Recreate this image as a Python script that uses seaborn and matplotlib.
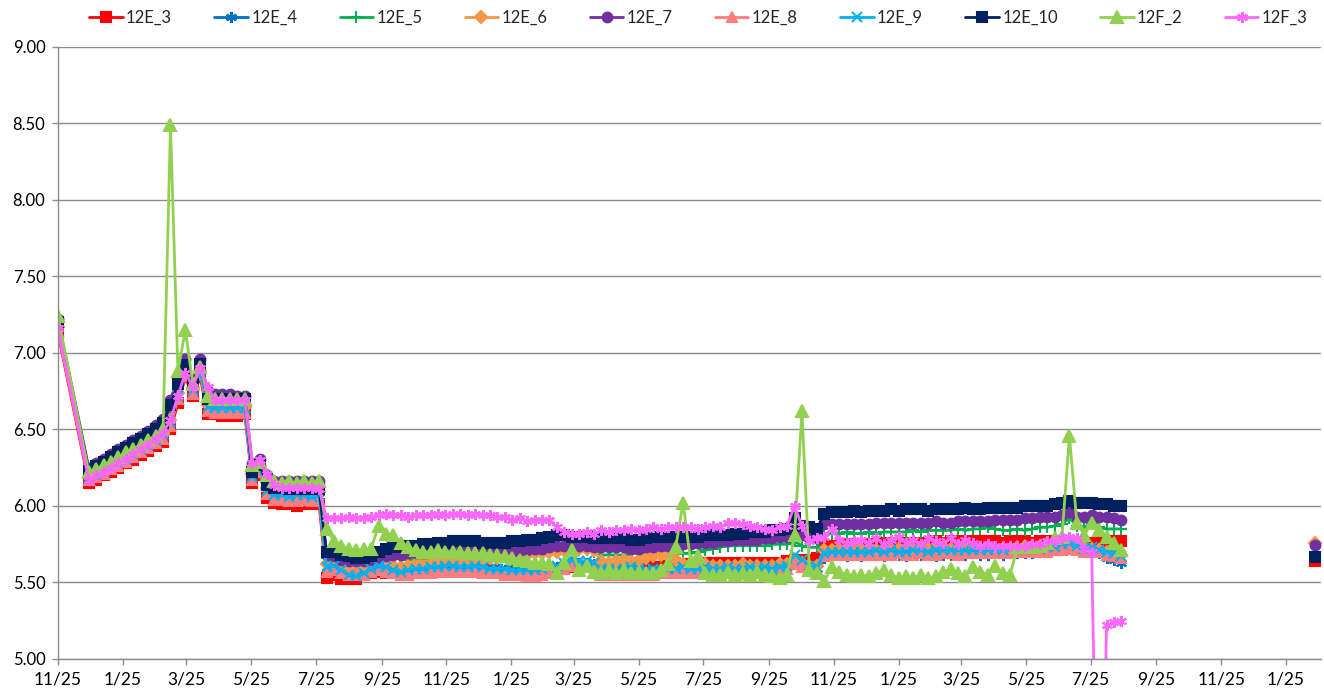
import matplotlib
matplotlib.use("Agg")
import matplotlib.pyplot as plt
import matplotlib.dates as mdates
from matplotlib.ticker import FuncFormatter, MultipleLocator
import seaborn as sns
import pandas as pd

# sampling dates: first reading, then weekly readings
first_date = pd.Timestamp("2011-11-25")
week_dates = pd.date_range("2011-12-24", periods=140, freq="7D")
dates = [first_date] + list(week_dates)
late_date = pd.Timestamp("2015-02-21")

series_names = ["12E_3", "12E_4", "12E_5", "12E_6", "12E_7",
                "12E_8", "12E_9", "12E_10", "12F_2", "12F_3"]

e3 = [7.13,
      6.15, 6.17, 6.20, 6.22, 6.25, 6.28, 6.30, 6.33, 6.36, 6.39,
      6.42, 6.50, 6.67, 6.84, 6.72, 6.84, 6.60, 6.60, 6.59, 6.59,
      6.59, 6.60, 6.15, 6.20, 6.05, 6.02, 6.01, 6.01, 6.00, 6.01,
      6.01, 6.01, 5.53, 5.55, 5.52, 5.52, 5.52, 5.55, 5.56, 5.57,
      5.56, 5.56, 5.56, 5.57, 5.57, 5.57, 5.57, 5.58, 5.58, 5.58,
      5.58, 5.58, 5.58, 5.58, 5.58, 5.58, 5.57, 5.57, 5.57, 5.57,
      5.58, 5.58, 5.58, 5.59, 5.59, 5.60, 5.61, 5.61, 5.60, 5.58,
      5.58, 5.58, 5.59, 5.59, 5.59, 5.60, 5.60, 5.60, 5.61, 5.61,
      5.62, 5.62, 5.63, 5.63, 5.63, 5.63, 5.63, 5.63, 5.63, 5.63,
      5.63, 5.63, 5.63, 5.63, 5.64, 5.65, 5.65, 5.65, 5.66, 5.74,
      5.74, 5.74, 5.75, 5.74, 5.75, 5.75, 5.75, 5.76, 5.75, 5.76,
      5.76, 5.76, 5.76, 5.76, 5.77, 5.76, 5.77, 5.77, 5.76, 5.77,
      5.77, 5.77, 5.77, 5.76, 5.77, 5.77, 5.77, 5.76, 5.77, 5.77,
      5.77, 5.77, 5.76, 5.75, 5.76, 5.76, 5.77, 5.77, 5.77, 5.77]

e4 = [7.18,
      6.18, 6.20, 6.23, 6.25, 6.28, 6.31, 6.33, 6.36, 6.39, 6.42,
      6.46, 6.54, 6.72, 6.87, 6.75, 6.87, 6.64, 6.63, 6.63, 6.63,
      6.63, 6.63, 6.19, 6.24, 6.09, 6.06, 6.06, 6.06, 6.05, 6.06,
      6.06, 6.06, 5.60, 5.60, 5.58, 5.55, 5.55, 5.56, 5.58, 5.60,
      5.59, 5.57, 5.56, 5.57, 5.58, 5.58, 5.59, 5.59, 5.60, 5.60,
      5.59, 5.60, 5.60, 5.59, 5.59, 5.59, 5.58, 5.58, 5.58, 5.57,
      5.57, 5.58, 5.59, 5.60, 5.62, 5.64, 5.63, 5.63, 5.62, 5.58,
      5.58, 5.57, 5.58, 5.59, 5.58, 5.57, 5.58, 5.57, 5.58, 5.58,
      5.59, 5.58, 5.58, 5.59, 5.58, 5.58, 5.59, 5.58, 5.58, 5.59,
      5.58, 5.59, 5.58, 5.59, 5.60, 5.66, 5.63, 5.60, 5.59, 5.66,
      5.68, 5.68, 5.67, 5.68, 5.67, 5.68, 5.68, 5.67, 5.68, 5.68,
      5.67, 5.68, 5.68, 5.68, 5.67, 5.68, 5.68, 5.68, 5.68, 5.69,
      5.68, 5.68, 5.69, 5.68, 5.69, 5.69, 5.69, 5.69, 5.70, 5.70,
      5.71, 5.72, 5.73, 5.72, 5.70, 5.71, 5.69, 5.66, 5.65, 5.63]

e5 = [7.20,
      6.21, 6.23, 6.26, 6.29, 6.31, 6.34, 6.37, 6.40, 6.43, 6.47,
      6.52, 6.62, 6.78, 6.90, 6.78, 6.90, 6.70, 6.68, 6.68, 6.68,
      6.68, 6.68, 6.24, 6.28, 6.16, 6.13, 6.13, 6.12, 6.13, 6.13,
      6.13, 6.13, 5.66, 5.64, 5.63, 5.63, 5.62, 5.63, 5.64, 5.66,
      5.67, 5.67, 5.66, 5.65, 5.65, 5.65, 5.66, 5.66, 5.66, 5.66,
      5.67, 5.67, 5.67, 5.67, 5.67, 5.68, 5.68, 5.68, 5.68, 5.69,
      5.69, 5.70, 5.70, 5.70, 5.71, 5.72, 5.71, 5.71, 5.70, 5.68,
      5.68, 5.68, 5.68, 5.69, 5.69, 5.70, 5.70, 5.71, 5.70, 5.69,
      5.69, 5.69, 5.70, 5.71, 5.72, 5.73, 5.74, 5.74, 5.74, 5.74,
      5.74, 5.74, 5.75, 5.75, 5.75, 5.77, 5.74, 5.73, 5.73, 5.82,
      5.82, 5.82, 5.83, 5.82, 5.82, 5.83, 5.82, 5.83, 5.83, 5.83,
      5.83, 5.84, 5.83, 5.84, 5.84, 5.84, 5.84, 5.85, 5.84, 5.85,
      5.85, 5.86, 5.85, 5.84, 5.84, 5.85, 5.84, 5.85, 5.86, 5.86,
      5.87, 5.88, 5.92, 5.87, 5.86, 5.89, 5.86, 5.85, 5.85, 5.85]

e6 = [7.17,
      6.19, 6.21, 6.24, 6.27, 6.29, 6.32, 6.35, 6.38, 6.41, 6.44,
      6.48, 6.56, 6.74, 6.88, 6.77, 6.88, 6.66, 6.66, 6.65, 6.65,
      6.65, 6.65, 6.21, 6.26, 6.12, 6.09, 6.09, 6.08, 6.09, 6.09,
      6.09, 6.09, 5.62, 5.63, 5.61, 5.60, 5.59, 5.60, 5.62, 5.63,
      5.62, 5.61, 5.60, 5.61, 5.62, 5.62, 5.63, 5.63, 5.64, 5.64,
      5.64, 5.65, 5.65, 5.66, 5.66, 5.66, 5.67, 5.67, 5.68, 5.68,
      5.69, 5.69, 5.70, 5.70, 5.71, 5.73, 5.72, 5.72, 5.71, 5.64,
      5.63, 5.64, 5.65, 5.64, 5.65, 5.66, 5.67, 5.68, 5.67, 5.65,
      5.62, 5.61, 5.61, 5.62, 5.61, 5.61, 5.61, 5.61, 5.62, 5.61,
      5.61, 5.61, 5.61, 5.62, 5.62, 5.65, 5.63, 5.61, 5.61, 5.71,
      5.71, 5.72, 5.71, 5.72, 5.72, 5.72, 5.71, 5.72, 5.72, 5.72,
      5.72, 5.72, 5.73, 5.72, 5.72, 5.73, 5.72, 5.72, 5.73, 5.72,
      5.72, 5.73, 5.72, 5.72, 5.72, 5.72, 5.73, 5.73, 5.73, 5.73,
      5.74, 5.74, 5.76, 5.74, 5.73, 5.72, 5.71, 5.70, 5.69, 5.68]

e7 = [7.22,
      6.25, 6.28, 6.31, 6.34, 6.37, 6.40, 6.43, 6.46, 6.49, 6.53,
      6.57, 6.69, 6.83, 6.96, 6.82, 6.96, 6.75, 6.73, 6.73, 6.73,
      6.72, 6.72, 6.28, 6.31, 6.20, 6.16, 6.16, 6.16, 6.16, 6.16,
      6.16, 6.16, 5.68, 5.67, 5.65, 5.64, 5.64, 5.64, 5.65, 5.66,
      5.67, 5.68, 5.68, 5.69, 5.69, 5.69, 5.70, 5.70, 5.70, 5.71,
      5.71, 5.71, 5.71, 5.71, 5.70, 5.70, 5.70, 5.70, 5.71, 5.71,
      5.72, 5.72, 5.73, 5.74, 5.74, 5.74, 5.74, 5.74, 5.73, 5.73,
      5.73, 5.73, 5.73, 5.72, 5.72, 5.73, 5.73, 5.74, 5.74, 5.74,
      5.75, 5.75, 5.76, 5.76, 5.76, 5.77, 5.77, 5.78, 5.78, 5.78,
      5.78, 5.79, 5.79, 5.80, 5.80, 5.84, 5.81, 5.79, 5.79, 5.88,
      5.88, 5.88, 5.88, 5.88, 5.88, 5.88, 5.89, 5.89, 5.89, 5.89,
      5.89, 5.89, 5.89, 5.89, 5.90, 5.89, 5.89, 5.90, 5.90, 5.90,
      5.90, 5.90, 5.91, 5.91, 5.91, 5.91, 5.92, 5.92, 5.93, 5.93,
      5.93, 5.94, 5.96, 5.93, 5.93, 5.94, 5.93, 5.93, 5.92, 5.91]

e8 = [7.14,
      6.17, 6.19, 6.21, 6.24, 6.26, 6.29, 6.32, 6.35, 6.38, 6.41,
      6.44, 6.52, 6.70, 6.85, 6.73, 6.86, 6.62, 6.61, 6.61, 6.61,
      6.61, 6.61, 6.17, 6.22, 6.08, 6.04, 6.04, 6.03, 6.03, 6.04,
      6.03, 6.04, 5.57, 5.58, 5.56, 5.55, 5.55, 5.55, 5.57, 5.58,
      5.57, 5.56, 5.55, 5.55, 5.56, 5.56, 5.56, 5.57, 5.57, 5.57,
      5.57, 5.57, 5.57, 5.56, 5.56, 5.56, 5.55, 5.55, 5.55, 5.54,
      5.54, 5.55, 5.56, 5.57, 5.59, 5.61, 5.61, 5.60, 5.60, 5.55,
      5.55, 5.55, 5.55, 5.55, 5.55, 5.55, 5.55, 5.56, 5.56, 5.56,
      5.56, 5.56, 5.56, 5.57, 5.57, 5.57, 5.57, 5.57, 5.57, 5.57,
      5.57, 5.57, 5.58, 5.58, 5.59, 5.62, 5.60, 5.59, 5.58, 5.67,
      5.68, 5.68, 5.68, 5.68, 5.68, 5.68, 5.68, 5.68, 5.68, 5.69,
      5.68, 5.68, 5.69, 5.68, 5.68, 5.69, 5.69, 5.68, 5.69, 5.69,
      5.69, 5.69, 5.69, 5.69, 5.69, 5.70, 5.70, 5.70, 5.70, 5.70,
      5.71, 5.71, 5.72, 5.71, 5.70, 5.70, 5.70, 5.68, 5.67, 5.66]

e9 = [7.17,
      6.18, 6.20, 6.23, 6.26, 6.28, 6.31, 6.34, 6.37, 6.40, 6.43,
      6.47, 6.55, 6.72, 6.87, 6.76, 6.88, 6.65, 6.64, 6.64, 6.64,
      6.64, 6.64, 6.19, 6.25, 6.10, 6.07, 6.07, 6.06, 6.07, 6.07,
      6.06, 6.07, 5.60, 5.61, 5.58, 5.55, 5.54, 5.56, 5.59, 5.61,
      5.60, 5.58, 5.57, 5.58, 5.59, 5.59, 5.60, 5.60, 5.61, 5.61,
      5.60, 5.60, 5.61, 5.60, 5.59, 5.59, 5.59, 5.58, 5.58, 5.58,
      5.58, 5.59, 5.60, 5.61, 5.63, 5.65, 5.64, 5.64, 5.63, 5.59,
      5.59, 5.58, 5.59, 5.60, 5.59, 5.58, 5.59, 5.58, 5.59, 5.59,
      5.60, 5.59, 5.59, 5.60, 5.59, 5.59, 5.60, 5.59, 5.59, 5.60,
      5.59, 5.60, 5.59, 5.60, 5.61, 5.68, 5.65, 5.61, 5.60, 5.69,
      5.70, 5.70, 5.70, 5.70, 5.70, 5.70, 5.71, 5.70, 5.71, 5.70,
      5.70, 5.71, 5.71, 5.70, 5.71, 5.71, 5.71, 5.71, 5.71, 5.71,
      5.71, 5.71, 5.72, 5.71, 5.72, 5.72, 5.72, 5.72, 5.72, 5.73,
      5.73, 5.75, 5.76, 5.74, 5.72, 5.73, 5.71, 5.70, 5.69, 5.67]

e10 = [7.20,
       6.23, 6.26, 6.29, 6.32, 6.35, 6.38, 6.41, 6.44, 6.47, 6.50,
       6.54, 6.66, 6.80, 6.92, 6.80, 6.93, 6.70, 6.70, 6.70, 6.70,
       6.70, 6.70, 6.22, 6.27, 6.14, 6.12, 6.12, 6.11, 6.11, 6.11,
       6.11, 6.11, 5.70, 5.70, 5.68, 5.67, 5.66, 5.66, 5.67, 5.70,
       5.72, 5.73, 5.73, 5.74, 5.74, 5.75, 5.75, 5.76, 5.76, 5.77,
       5.77, 5.77, 5.77, 5.76, 5.76, 5.76, 5.76, 5.77, 5.77, 5.78,
       5.78, 5.79, 5.80, 5.81, 5.81, 5.80, 5.80, 5.80, 5.79, 5.79,
       5.79, 5.79, 5.79, 5.78, 5.78, 5.79, 5.80, 5.80, 5.80, 5.80,
       5.80, 5.80, 5.80, 5.81, 5.81, 5.81, 5.81, 5.82, 5.82, 5.83,
       5.83, 5.83, 5.84, 5.84, 5.85, 5.92, 5.87, 5.86, 5.85, 5.95,
       5.96, 5.96, 5.96, 5.97, 5.96, 5.97, 5.97, 5.97, 5.98, 5.97,
       5.98, 5.98, 5.98, 5.97, 5.98, 5.98, 5.98, 5.98, 5.99, 5.98,
       5.98, 5.99, 5.99, 5.99, 5.99, 5.99, 6.00, 6.00, 6.00, 6.00,
       6.01, 6.02, 6.03, 6.02, 6.02, 6.02, 6.01, 6.01, 6.00, 6.00]

f2 = [7.24,
      6.22, 6.24, 6.27, 6.29, 6.32, 6.35, 6.37, 6.40, 6.43, 6.46,
      6.50, 8.49, 6.88, 7.15, 6.80, 6.91, 6.72, 6.70, 6.70, 6.70,
      6.70, 6.70, 6.27, 6.29, 6.20, 6.16, 6.15, 6.16, 6.15, 6.16,
      6.15, 6.16, 5.85, 5.77, 5.74, 5.72, 5.71, 5.72, 5.72, 5.87,
      5.82, 5.81, 5.76, 5.73, 5.71, 5.70, 5.70, 5.71, 5.70, 5.70,
      5.70, 5.69, 5.69, 5.69, 5.68, 5.68, 5.67, 5.66, 5.65, 5.64,
      5.63, 5.63, 5.62, 5.56, 5.63, 5.71, 5.58, 5.61, 5.57, 5.56,
      5.58, 5.56, 5.58, 5.56, 5.57, 5.56, 5.56, 5.58, 5.62, 5.73,
      6.02, 5.64, 5.67, 5.56, 5.55, 5.55, 5.57, 5.55, 5.56, 5.55,
      5.57, 5.55, 5.54, 5.53, 5.55, 5.81, 6.62, 5.58, 5.56, 5.51,
      5.60, 5.57, 5.55, 5.54, 5.55, 5.54, 5.56, 5.58, 5.55, 5.53,
      5.54, 5.53, 5.55, 5.53, 5.54, 5.57, 5.59, 5.56, 5.54, 5.60,
      5.57, 5.55, 5.61, 5.56, 5.55, 5.73, 5.74, 5.73, 5.74, 5.76,
      5.79, 5.80, 6.46, 5.89, 5.81, 5.89, 5.84, 5.80, 5.76, 5.71]

f3 = [7.16,
      6.17, 6.20, 6.22, 6.25, 6.28, 6.31, 6.34, 6.37, 6.40, 6.44,
      6.48, 6.56, 6.72, 6.87, 6.78, 6.90, 6.78, 6.69, 6.69, 6.69,
      6.69, 6.69, 6.28, 6.30, 6.21, 6.14, 6.12, 6.12, 6.12, 6.12,
      6.12, 6.11, 5.92, 5.92, 5.92, 5.93, 5.92, 5.92, 5.93, 5.94,
      5.95, 5.94, 5.94, 5.93, 5.94, 5.94, 5.94, 5.95, 5.94, 5.95,
      5.95, 5.94, 5.95, 5.94, 5.94, 5.93, 5.93, 5.91, 5.92, 5.90,
      5.91, 5.91, 5.91, 5.86, 5.83, 5.82, 5.82, 5.83, 5.82, 5.84,
      5.83, 5.84, 5.84, 5.85, 5.84, 5.85, 5.86, 5.85, 5.86, 5.86,
      5.86, 5.86, 5.85, 5.86, 5.87, 5.86, 5.89, 5.89, 5.88, 5.87,
      5.86, 5.85, 5.84, 5.86, 5.87, 6.00, 5.87, 5.77, 5.79, 5.80,
      5.85, 5.78, 5.76, 5.77, 5.78, 5.76, 5.79, 5.75, 5.78, 5.80,
      5.76, 5.78, 5.75, 5.79, 5.77, 5.76, 5.79, 5.75, 5.78, 5.76,
      5.74, 5.75, 5.74, 5.74, 5.74, 5.74, 5.74, 5.75, 5.75, 5.77,
      5.77, 5.79, 5.80, 5.79, 5.72, 5.70, 3.00, 5.22, 5.24, 5.25]

# single late reading (Feb) for a few of the series
late_names = ["12E_3", "12E_6", "12E_7", "12E_10"]
late_values = [5.64, 5.76, 5.745, 5.665]

series_values = [e3, e4, e5, e6, e7, e8, e9, e10, f2, f3]
colors = ["#FF0000", "#0070C0", "#00B050", "#F79646", "#7030A0",
          "#FF7C80", "#00B0F0", "#002060", "#92D050", "#FF66FF"]
star = (6, 2, 0)
markers = ["s", star, "+", "D", "o", "^", "x", "s", "^", star]
msizes = [7, 8, 8, 6.5, 7, 7.5, 7, 7, 8, 8]

sns.set_theme(style="white")
plt.rcParams["font.family"] = ["Lato", "DejaVu Sans"]

fig = plt.figure(figsize=(13.24, 7), dpi=100)
ax = fig.add_axes([0.0438, 0.0586, 0.9539, 0.8743])

for name, vals, col, mk, ms in zip(series_names, series_values, colors, markers, msizes):
    sns.lineplot(
        x=dates,
        y=vals,
        ax=ax,
        color=col,
        linewidth=2.0,
        marker=mk,
        markersize=ms,
        markeredgecolor=col,
        markeredgewidth=1.5,
        label=name
    )

for name, val in zip(late_names, late_values):
    i = series_names.index(name)
    sns.lineplot(
        x=[late_date],
        y=[val],
        ax=ax,
        color=colors[i],
        marker=markers[i],
        markersize=msizes[i],
        markeredgecolor=colors[i],
        markeredgewidth=1.5,
        legend=False
    )

ax.set_ylim(5, 9)
ax.set_xlim(pd.Timestamp("2011-11-25"), pd.Timestamp("2015-02-27"))
ax.yaxis.set_major_locator(MultipleLocator(0.5))
ax.yaxis.set_major_formatter(FuncFormatter(lambda v, p: f"{v:.2f}"))
ax.xaxis.set_major_locator(mdates.MonthLocator(bymonth=(1, 3, 5, 7, 9, 11), bymonthday=25))
ax.xaxis.set_major_formatter(
    FuncFormatter(lambda v, p: f"{mdates.num2date(v).month}/{mdates.num2date(v).day}")
)

ax.grid(axis="y", color="#8c8c8c", linewidth=1.0)
ax.grid(axis="x", visible=False)
ax.set_axisbelow(True)
for side in ["top", "right"]:
    ax.spines[side].set_visible(False)
for side in ["left", "bottom"]:
    ax.spines[side].set_color("#8c8c8c")
    ax.spines[side].set_linewidth(1.0)

ax.tick_params(axis="both", which="major", labelsize=12.5, colors="#8c8c8c",
               labelcolor="black", length=4, width=1, direction="out", pad=5)
ax.tick_params(axis="x", bottom=True, pad=5)
ax.tick_params(axis="y", left=True, labelsize=12)
ax.set_xlabel("")
ax.set_ylabel("")

handles, labels = ax.get_legend_handles_labels()
ax.legend(
    handles, labels,
    loc="center",
    bbox_to_anchor=(0.5275, 0.975),
    bbox_transform=fig.transFigure,
    ncol=10,
    frameon=False,
    fontsize=12,
    handlelength=2.0,
    handletextpad=0.2,
    columnspacing=2.55
)

fig.savefig("out.png", dpi=100)
